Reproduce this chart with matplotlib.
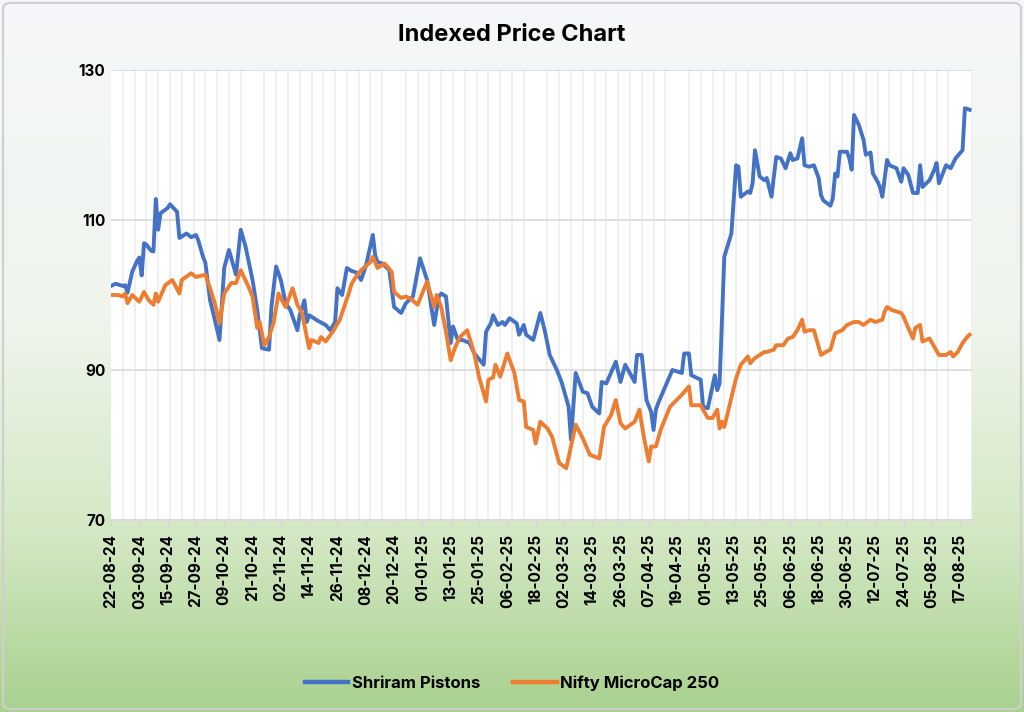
import numpy as np
import pandas as pd
import matplotlib
matplotlib.use("Agg")
import matplotlib.pyplot as plt
import matplotlib.dates as mdates
from matplotlib.colors import LinearSegmentedColormap
from matplotlib.patches import FancyBboxPatch

start = pd.Timestamp("2024-08-22")

# Shriram Pistons, indexed (days after 22-08-24, value)
sp_days = [0, 2, 5, 6, 7, 9, 11, 12, 13, 14, 15, 17, 18, 19, 20, 21, 24, 25, 28, 29,
           32, 34, 36, 37, 39, 40, 42, 44, 46, 48, 50, 52, 53, 55, 57, 60, 62, 64, 67, 68,
           70, 72, 74, 76, 79, 80, 82, 83, 84, 86, 88, 91, 93, 95, 96, 98, 100, 102, 104, 106,
           108, 111, 112, 113, 115, 118, 120, 123, 125, 128, 131, 134, 137, 139, 140, 142, 144, 145, 147, 149,
           152, 154, 158, 159, 161, 162, 164, 166, 167, 169, 172, 173, 175, 176, 179, 182, 184, 186, 189, 191,
           194, 195, 197, 200, 202, 204, 207, 208, 210, 214, 216, 218, 222, 223, 225, 227, 229, 230, 231, 232,
           238, 242, 243, 245, 246, 250, 251, 253, 256, 257, 258, 260, 263, 265, 266, 267, 270, 271, 272, 273,
           275, 277, 278, 280, 282, 284, 286, 288, 289, 291, 293, 294, 296, 298, 300, 301, 302, 305, 306, 307,
           308, 309, 312, 313, 314, 315, 317, 319, 320, 322, 323, 325, 326, 327, 329, 330, 333, 335, 336, 338,
           340, 342, 343, 344, 347, 349, 350, 351, 354, 356, 358, 361, 362, 364]
sp_vals = [101.2, 101.5, 101.2, 101.3, 100.3, 103.1, 104.5, 105.0, 102.6, 106.9, 106.7, 105.9, 105.8, 112.8, 108.7, 110.9, 111.6, 112.1, 111.1, 107.6,
           108.2, 107.7, 108.0, 107.3, 105.1, 104.3, 99.3, 96.7, 94.0, 103.6, 106.0, 103.8, 102.7, 108.7, 106.5, 102.0, 98.0, 92.9, 92.7, 98.4,
           103.8, 102.0, 98.9, 98.0, 95.3, 97.3, 99.3, 96.4, 97.3, 96.9, 96.5, 96.0, 95.3, 96.4, 100.9, 100.0, 103.6, 103.2, 103.0, 102.0,
           103.8, 108.0, 105.3, 104.4, 104.2, 103.3, 98.4, 97.6, 98.9, 99.8, 104.9, 102.0, 96.0, 99.8, 100.2, 99.8, 93.6, 95.8, 94.0, 94.0,
           93.6, 92.2, 90.7, 95.1, 96.2, 97.3, 96.0, 96.4, 96.0, 96.9, 96.2, 94.7, 96.0, 94.7, 94.0, 97.6, 95.1, 92.0, 90.0, 88.4,
           85.1, 80.7, 89.6, 87.1, 86.9, 85.1, 84.2, 88.4, 88.2, 91.1, 88.4, 90.7, 88.4, 92.0, 92.0, 86.0, 84.4, 82.0, 84.7, 85.6,
           90.0, 89.6, 92.2, 92.2, 89.3, 88.7, 85.1, 84.9, 89.3, 87.3, 88.2, 105.1, 108.2, 117.3, 117.1, 113.1, 113.8, 113.6, 114.9, 119.3,
           115.8, 115.3, 115.6, 113.1, 118.4, 118.2, 116.9, 118.9, 118.0, 118.2, 120.9, 117.3, 117.1, 117.3, 115.6, 113.3, 112.6, 111.9, 112.9, 116.2,
           115.8, 119.1, 119.1, 118.2, 116.7, 124.0, 122.7, 120.7, 118.7, 119.0, 116.2, 115.1, 114.4, 113.1, 118.0, 117.3, 116.9, 115.1, 116.9, 116.0,
           113.6, 113.6, 117.3, 114.4, 115.3, 116.7, 117.6, 114.9, 117.3, 116.9, 118.2, 119.3, 124.9, 124.7]

# Nifty MicroCap 250, indexed
nm_days = [0, 3, 5, 6, 7, 9, 12, 14, 16, 18, 19, 20, 23, 26, 29, 30, 34, 36, 40, 42,
           44, 46, 48, 51, 53, 55, 58, 60, 62, 63, 65, 67, 69, 71, 74, 77, 79, 81, 83, 84,
           85, 88, 89, 91, 94, 97, 101, 102, 104, 106, 110, 111, 113, 116, 119, 120, 123, 125, 127, 130,
           134, 137, 138, 140, 142, 144, 146, 148, 151, 154, 156, 159, 160, 162, 163, 165, 168, 171, 173, 175,
           176, 179, 180, 182, 185, 187, 190, 193, 197, 200, 203, 207, 209, 212, 214, 216, 218, 222, 224, 226,
           228, 229, 231, 233, 237, 242, 245, 246, 250, 253, 255, 257, 258, 259, 260, 265, 267, 270, 271, 273,
           275, 277, 278, 281, 282, 285, 287, 289, 291, 293, 294, 296, 298, 299, 301, 303, 305, 307, 310, 312,
           315, 317, 319, 322, 324, 327, 328, 329, 331, 335, 336, 338, 340, 341, 343, 344, 347, 349, 351, 354,
           356, 357, 359, 361, 363, 364]
nm_vals = [100.0, 100.0, 99.8, 100.2, 98.9, 100.0, 99.1, 100.4, 99.3, 98.7, 100.2, 99.1, 101.3, 102.0, 100.2, 102.0, 102.9, 102.4, 102.7, 100.9,
           98.9, 96.2, 100.2, 101.6, 101.6, 103.3, 101.3, 99.8, 95.6, 96.4, 93.3, 94.4, 96.4, 100.2, 98.4, 100.9, 98.7, 97.6, 94.4, 92.9,
           94.0, 93.6, 94.4, 93.8, 95.1, 96.7, 100.4, 101.5, 102.5, 103.3, 104.4, 105.1, 103.6, 104.2, 103.1, 100.4, 99.6, 99.8, 99.5, 98.7,
           101.8, 98.4, 100.0, 98.4, 95.1, 91.3, 93.1, 94.4, 95.3, 92.2, 89.1, 85.8, 88.7, 89.0, 90.7, 89.1, 92.2, 89.6, 86.0, 85.8,
           82.4, 82.0, 80.2, 83.1, 82.2, 81.1, 77.6, 76.9, 82.7, 80.9, 78.7, 78.2, 82.4, 84.0, 86.0, 82.9, 82.2, 83.1, 84.7, 80.9,
           77.8, 79.8, 79.8, 82.0, 85.1, 86.7, 87.8, 85.3, 85.3, 83.6, 83.6, 84.7, 82.2, 83.1, 82.4, 88.9, 90.7, 91.8, 90.9, 91.6,
           92.0, 92.4, 92.4, 92.7, 93.3, 93.3, 94.2, 94.4, 95.3, 96.7, 95.1, 95.3, 95.3, 94.2, 92.0, 92.4, 92.7, 94.9, 95.3, 96.0,
           96.4, 96.4, 96.0, 96.7, 96.4, 96.7, 97.8, 98.4, 98.0, 97.6, 97.1, 95.6, 94.2, 95.6, 96.0, 93.8, 94.2, 93.1, 92.0, 92.0,
           92.4, 91.8, 92.4, 93.6, 94.4, 94.7]

series_names = ["Shriram Pistons", "Nifty MicroCap 250"]
series_colors = ["#4472C4", "#ED7D31"]

sp_dates = start + pd.to_timedelta(sp_days, unit="D")
nm_dates = start + pd.to_timedelta(nm_days, unit="D")

plt.rcParams["font.family"] = ["Inter", "DejaVu Sans"]

fig = plt.figure(figsize=(10.24, 7.12), dpi=100)

# background gradient (light grey at top to green at bottom)
bg = fig.add_axes([0, 0, 1, 1], zorder=-10)
cmap = LinearSegmentedColormap.from_list(
    "bg", [(0.0, "#A9D18E"), (0.25, "#D3E8C4"), (0.55, "#EFF5EC"), (1.0, "#F5F7FA")])
grad = np.linspace(0, 1, 256).reshape(-1, 1)
bg.imshow(grad, aspect="auto", cmap=cmap, origin="lower", extent=[0, 1, 0, 1])
bg.add_patch(FancyBboxPatch((0.003, 0.004), 0.994, 0.992, boxstyle="round,pad=0,rounding_size=0.008",
                            transform=bg.transAxes, fill=False, ec="#CFCFCF", lw=1.5))
bg.set_axis_off()

ax = fig.add_axes([0.1084, 0.2697, 0.8408, 0.632])
ax.set_facecolor("white")
ax.plot(sp_dates, sp_vals, color=series_colors[0], lw=2.8, label=series_names[0],
        solid_joinstyle="round", zorder=3)
ax.plot(nm_dates, nm_vals, color=series_colors[1], lw=2.8, label=series_names[1],
        solid_joinstyle="round", zorder=3)

ax.set_xlim(start, start + pd.Timedelta(days=365))
ax.set_ylim(70, 130)
ax.set_yticks([70, 90, 110, 130])

major = [start + pd.Timedelta(days=12 * k) for k in range(31)]
minor = [start + pd.Timedelta(days=5 * k) for k in range(1, 74)]
ax.set_xticks(major)
ax.set_xticks(minor, minor=True)
ax.xaxis.set_major_formatter(mdates.DateFormatter("%d-%m-%y"))
ax.tick_params(axis="x", which="major", rotation=90, labelsize=11, length=5,
               color="#D9D9D9", width=1, pad=5)
ax.tick_params(axis="x", which="minor", length=0)
ax.tick_params(axis="y", length=0, labelsize=11, pad=4)
for lab in ax.get_xticklabels() + ax.get_yticklabels():
    lab.set_fontweight("bold")

ax.grid(axis="x", which="minor", color="#EDEDED", lw=1.2, zorder=0)
ax.grid(axis="y", which="major", color="#D9D9D9", lw=1.2, zorder=0)
ax.set_axisbelow(True)
for s in ["top", "right", "left"]:
    ax.spines[s].set_visible(False)
ax.spines["bottom"].set_color("#D9D9D9")
ax.spines["bottom"].set_linewidth(1.2)

fig.text(0.5, 0.951, "Indexed Price Chart", ha="center", va="center",
         fontsize=17, fontweight="bold")

leg = fig.legend(loc="center", bbox_to_anchor=(0.5, 0.04), ncol=2, frameon=False,
                 prop={"weight": "bold", "size": 12}, handlelength=2.6,
                 handletextpad=0.2, columnspacing=2.0)
for line in leg.get_lines():
    line.set_linewidth(3.2)

fig.savefig("out.png", dpi=100)
